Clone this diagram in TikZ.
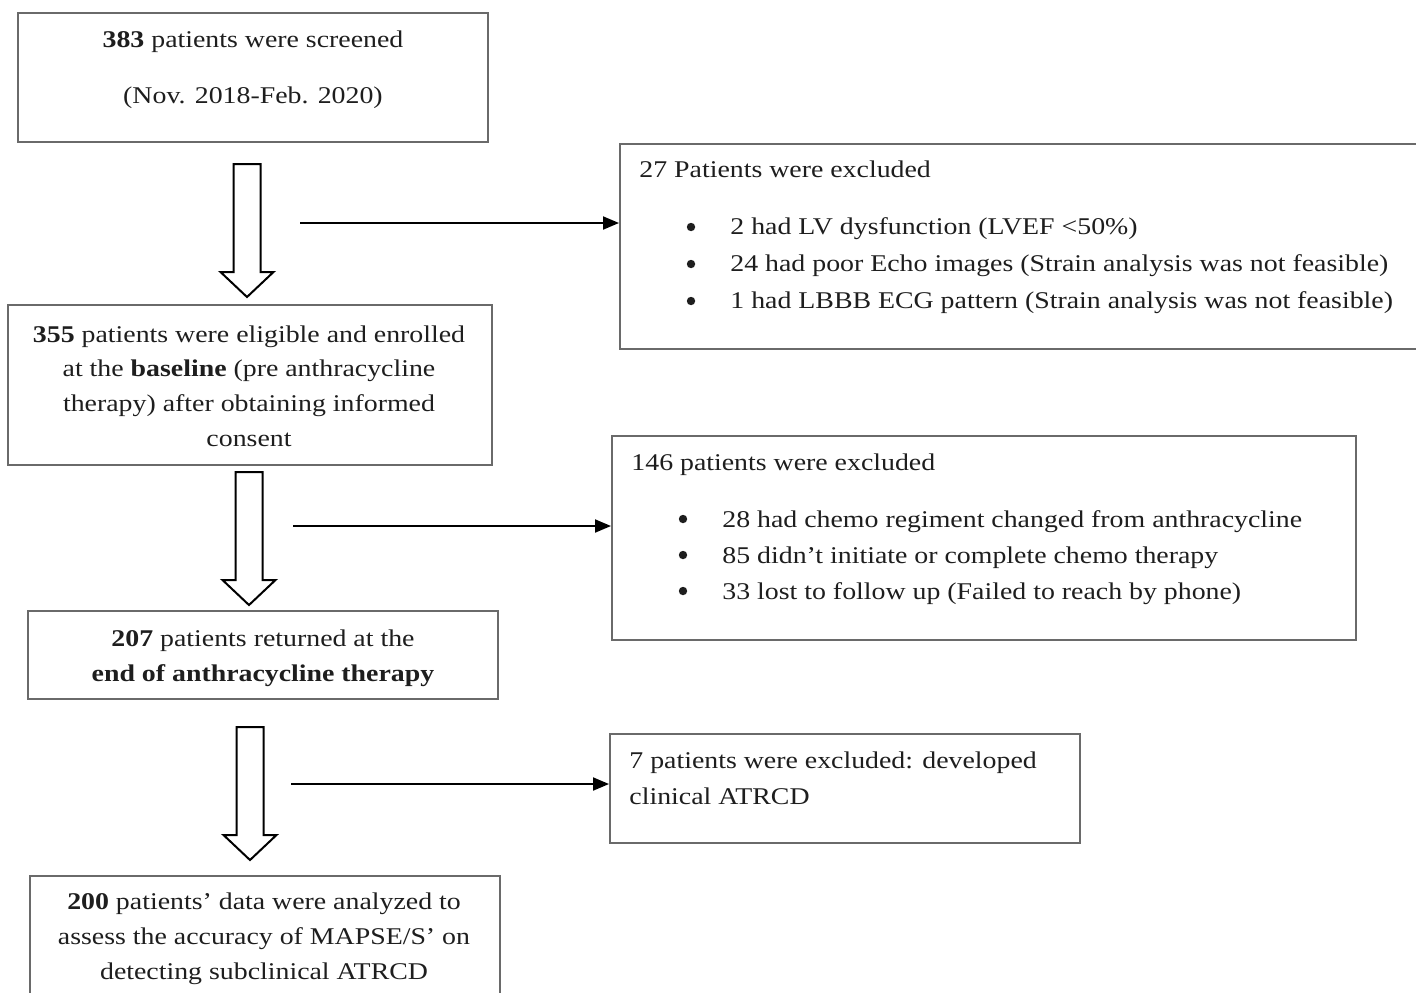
\documentclass[tikz,border=0pt]{standalone}
\usepackage{fontspec}
\setmainfont{Liberation Serif}[FakeStretch=1.16]
\usetikzlibrary{arrows.meta}
\definecolor{boxgray}{HTML}{6A6A6A}
\definecolor{inkc}{HTML}{1E1E1E}
\tikzset{
  box/.style={draw=boxgray,line width=1pt,rectangle,inner sep=0pt,anchor=north west},
  txt/.style={inner sep=0pt,text=inkc,font=\fontsize{12pt}{17.4pt}\selectfont},
  dot/.style={circle,fill=inkc,inner sep=0pt,minimum size=4.2pt},
  conn/.style={draw=black,line width=1pt,-{Triangle[length=8pt,width=6.5pt]}},
  barrow/.style={draw=black,line width=1pt,fill=white,line join=miter},
  blockarrow/.pic={\path[barrow] (-13.5,0) -- (13.5,0) -- (13.5,108) -- (26.5,108) -- (0,133) -- (-26.5,108) -- (-13.5,108) -- cycle;}
}
\begin{document}
\begin{tikzpicture}[x=0.5pt,y=-0.5pt]
\useasboundingbox[fill=white] (0,0) rectangle (1416,992);

% main boxes
\node[box,minimum width=235pt,minimum height=64.5pt] (b1) at (17,12) {};
\node[box,minimum width=242pt,minimum height=80pt] (b2) at (7,304) {};
\node[box,minimum width=235pt,minimum height=44pt] (b3) at (27,610) {};
\node[box,minimum width=235pt,minimum height=67.5pt] (b4) at (29,875) {};
% exclusion boxes
\node[box,minimum width=403pt,minimum height=102.5pt] (e1) at (619,143) {};
\node[box,minimum width=372pt,minimum height=102pt] (e2) at (611,435) {};
\node[box,minimum width=235pt,minimum height=54.5pt] (e3) at (609,733) {};

% texts of main boxes
\node[txt,anchor=mid] (t1a) at (253,42.5) {\textbf{383} patients were screened};
\node[txt,anchor=mid] (t1b) at (253,98.5) {(Nov. 2018-Feb. 2020)};
\node[txt,align=center] (t2) at (249,386) {\textbf{355} patients were eligible and enrolled\\at the \textbf{baseline} (pre anthracycline\\therapy) after obtaining informed\\consent};
\node[txt,align=center] (t3) at (263,658) {\textbf{207} patients returned at the\\\textbf{end of anthracycline therapy}};
\node[txt,align=center] (t4) at (264,939) {\textbf{200} patients’ data were analyzed to\\assess the accuracy of MAPSE/S’ on\\detecting subclinical ATRCD};

% exclusion 1
\node[txt,anchor=mid west] (h1) at (639,172.5) {27 Patients were excluded};
\node[dot] (d11) at (691,227) {};
\node[dot] (d12) at (691,264) {};
\node[dot] (d13) at (691,301) {};
\node[txt,anchor=mid west] (i11) at (730,229.5) {2 had LV dysfunction (LVEF <50\%)};
\node[txt,anchor=mid west] (i12) at (730,266.5) {24 had poor Echo images (Strain analysis was not feasible)};
\node[txt,anchor=mid west] (i13) at (730,303.5) {1 had LBBB ECG pattern (Strain analysis was not feasible)};

% exclusion 2
\node[txt,anchor=mid west] (h2) at (631,465.5) {146 patients were excluded};
\node[dot] (d21) at (683,519) {};
\node[dot] (d22) at (683,555) {};
\node[dot] (d23) at (683,591) {};
\node[txt,anchor=mid west] (i21) at (722,522.5) {28 had chemo regiment changed from anthracycline};
\node[txt,anchor=mid west] (i22) at (722,558.5) {85 didn’t initiate or complete chemo therapy};
\node[txt,anchor=mid west] (i23) at (722,594.5) {33 lost to follow up (Failed to reach by phone)};

% exclusion 3
\node[txt,anchor=mid west] (h3a) at (629,763.5) {7 patients were excluded: developed};
\node[txt,anchor=mid west] (h3b) at (629,799.5) {clinical ATRCD};

% block arrows
\pic (ba1) at (247,164) {blockarrow};
\pic (ba2) at (249,472) {blockarrow};
\pic (ba3) at (250,727) {blockarrow};

% side connectors
\coordinate (s1) at (300,223);
\coordinate (s2) at (293,526);
\coordinate (s3) at (291,784);
\draw[conn] (s1) -- (s1 -| e1.west);
\draw[conn] (s2) -- (s2 -| e2.west);
\draw[conn] (s3) -- (s3 -| e3.west);
\end{tikzpicture}
\end{document}
